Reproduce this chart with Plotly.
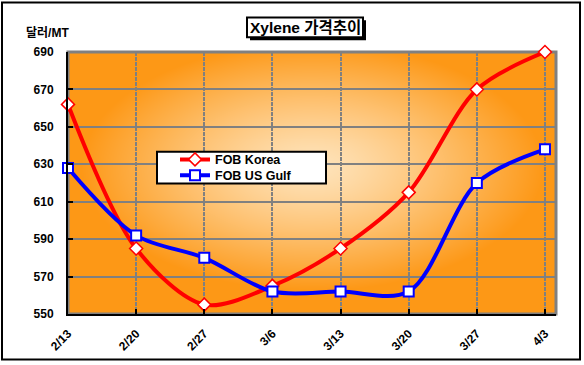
import base64, struct, zlib
import numpy as np
import plotly.graph_objects as go

dates = ["2/13", "2/20", "2/27", "3/6", "3/13", "3/20", "3/27", "4/3"]
fob_korea = [662, 585, 555, 565, 585, 615, 670, 690]
fob_us_gulf = [628, 592, 580, 562, 562, 562, 620, 638]
y_ticks = [550, 570, 590, 610, 630, 650, 670, 690]

W, H = 584, 365
L, R, T, B = 68, 556, 52, 317
PW, PH = R - L, B - T

def px(x):
    return (x - L) / PW

def py(y):
    return (B - y) / PH

def png_uri(arr):
    h, w, _ = arr.shape
    raw = b"".join(b"\x00" + arr[i].tobytes() for i in range(h))
    def chunk(t, d):
        return struct.pack(">I", len(d)) + t + d + struct.pack(">I", zlib.crc32(t + d) & 0xffffffff)
    png = (b"\x89PNG\r\n\x1a\n" + chunk(b"IHDR", struct.pack(">IIBBBBB", w, h, 8, 2, 0, 0, 0))
           + chunk(b"IDAT", zlib.compress(raw, 9)) + chunk(b"IEND", b""))
    return "data:image/png;base64," + base64.b64encode(png).decode()

# radial background gradient for the plot area
yy, xx = np.mgrid[0:PH, 0:PW].astype(float)
cx, cy = 312 - L, 168 - T
nx = (xx - cx) / (PW / 2)
ny = (yy - cy) / (PH / 2)
t = np.clip(np.sqrt(nx ** 2 + ny ** 2) / 0.95, 0, 1)
c_center = np.array([255, 228, 188], float)
c_edge = np.array([253, 152, 22], float)
img = c_center + (c_edge - c_center) * (t[..., None] ** 1.25)
img = np.clip(img, 0, 255).astype(np.uint8)

font_fam = "Arial, Liberation Sans, Noto Sans CJK KR, sans-serif"

fig = go.Figure()
fig.add_trace(go.Scatter(
    x=dates, y=fob_korea, name="FOB Korea", mode="lines+markers",
    line=dict(color="#FF0000", width=4, shape="spline", smoothing=0.9),
    marker=dict(symbol="diamond", size=10, color="white", line=dict(color="#FF0000", width=1.5)),
    cliponaxis=False, legend="legend",
))
fig.add_trace(go.Scatter(
    x=dates, y=fob_us_gulf, name="FOB US Gulf", mode="lines+markers",
    line=dict(color="#0000FF", width=4, shape="spline", smoothing=0.9),
    marker=dict(symbol="square", size=10, color="white", line=dict(color="#0000FF", width=2)),
    cliponaxis=False, legend="legend2",
))

shapes = [
    # outer chart border
    dict(type="rect", xref="paper", yref="paper", x0=px(2), x1=px(580), y0=py(363), y1=py(2),
         line=dict(color="black", width=2), fillcolor="rgba(0,0,0,0)", layer="below"),
    # plot area gray frame
    dict(type="rect", xref="paper", yref="paper", x0=0, x1=1, y0=0, y1=1,
         line=dict(color="#808080", width=3), fillcolor="rgba(0,0,0,0)", layer="below"),
    # title box shadow + box
    dict(type="rect", xref="paper", yref="paper", x0=px(250), x1=px(366), y0=py(40), y1=py(20),
         line=dict(width=0), fillcolor="black", layer="above"),
    dict(type="rect", xref="paper", yref="paper", x0=px(247), x1=px(363), y0=py(37), y1=py(17),
         line=dict(color="black", width=2), fillcolor="white", layer="above"),
    # legend box
    dict(type="rect", xref="paper", yref="paper", x0=px(157), x1=px(326), y0=py(185), y1=py(153),
         line=dict(color="black", width=2), fillcolor="white", layer="above"),
]

leg_common = dict(xanchor="left", yanchor="middle", bgcolor="rgba(0,0,0,0)", borderwidth=0,
                  font=dict(size=12.5, weight="bold", family=font_fam), itemwidth=30)

fig.update_layout(
    width=W, height=H,
    margin=dict(l=L, r=W - R, t=T, b=H - B),
    paper_bgcolor="white", plot_bgcolor="#FFB050",
    font=dict(family=font_fam, color="black", size=12),
    showlegend=True,
    legend=dict(x=px(175), y=py(161), **leg_common),
    legend2=dict(x=px(175), y=py(177), **leg_common),
    images=[dict(source=png_uri(img), xref="paper", yref="paper", x=0, y=1, sizex=1, sizey=1,
                 sizing="stretch", layer="below")],
    shapes=shapes,
    annotations=[
        dict(text="Xylene 가격추이", xref="paper", yref="paper", x=px(305), y=py(27),
             xanchor="center", yanchor="middle", showarrow=False,
             font=dict(size=15.5, weight="bold", family=font_fam)),
        dict(text="달러/MT", xref="paper", yref="paper", x=px(24), y=py(33),
             xanchor="left", yanchor="middle", showarrow=False,
             font=dict(size=12, weight="bold", family=font_fam)),
    ],
    xaxis=dict(type="category", range=[0, 7 + 11 / 68], showgrid=True, gridcolor="#808080",
               gridwidth=2, griddash="4px,1px", showline=True, linecolor="black", linewidth=2,
               ticks="inside", ticklen=5, tickcolor="black", tickwidth=2, tickangle=-45,
               tickfont=dict(size=12, weight="bold"), ticklabelstandoff=6, zeroline=False),
    yaxis=dict(range=[550, 690], tickvals=y_ticks, showgrid=True, gridcolor="#808080", gridwidth=2,
               showline=True, linecolor="black", linewidth=2, ticks="inside", ticklen=5,
               tickcolor="black", tickwidth=2, tickfont=dict(size=12, weight="bold"),
               ticklabelstandoff=10, zeroline=False),
)

fig.write_html("out.html", post_script="document.body.style.margin='0px';",
               config={"displayModeBar": False})
